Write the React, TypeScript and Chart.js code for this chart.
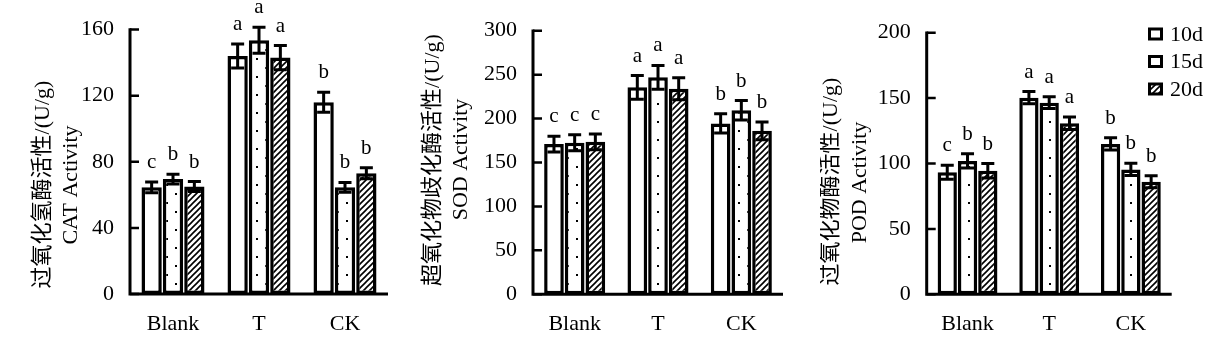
import React, { useEffect, useRef } from 'react';
import { Chart, registerables } from 'chart.js';

Chart.register(...registerables);

// ---------- data ----------
const categories = ['Blank', 'T', 'CK'];
const seriesLabels = ['10d', '15d', '20d'];

// CAT activity
const catMean10d = [64.5, 144, 116];
const catMean15d = [69.5, 153.5, 64.5];
const catMean20d = [65, 143, 73];
const catErr10d = [3.3, 7.3, 6];
const catErr15d = [3, 7.9, 3];
const catErr20d = [3, 7.3, 3.3];
const catLetters10d = ['c', 'a', 'b'];
const catLetters15d = ['b', 'a', 'b'];
const catLetters20d = ['b', 'a', 'b'];
const catTicks = [0, 40, 80, 120, 160];

// SOD activity
const sodMean10d = [171, 235.5, 194.5];
const sodMean15d = [172.5, 247, 209.5];
const sodMean20d = [173.5, 234, 186];
const sodErr10d = [9, 13.5, 11];
const sodErr15d = [9, 13.5, 11];
const sodErr20d = [9, 12.5, 10];
const sodLetters10d = ['c', 'a', 'b'];
const sodLetters15d = ['c', 'a', 'b'];
const sodLetters20d = ['c', 'a', 'b'];
const sodTicks = [0, 50, 100, 150, 200, 250, 300];

// POD activity
const podMean10d = [93.3, 150.3, 115];
const podMean15d = [102, 146.5, 95.5];
const podMean20d = [94.5, 130.7, 86];
const podErr10d = [5.3, 4.7, 4.7];
const podErr15d = [5.5, 4.5, 4.7];
const podErr20d = [5.5, 4.8, 4.6];
const podLetters10d = ['c', 'a', 'b'];
const podLetters15d = ['b', 'a', 'b'];
const podLetters20d = ['b', 'a', 'b'];
const podTicks = [0, 50, 100, 150, 200];

const catTitle = ['过氧化氢酶活性/(U/g)', 'CAT Activity'];
const sodTitle = ['超氧化物歧化酶活性/(U/g)', 'SOD Activity'];
const podTitle = ['过氧化物酶活性/(U/g)', 'POD Activity'];

// ---------- layout / style ----------
const W = 1228;
const H = 355;
const FONT = "'Liberation Serif', 'Times New Roman', 'Noto Sans CJK SC', serif";
const FS = 22;
const LETTER_FS = 21;

type Panel = {
  left: number;
  width: number;
  area: { left: number; right: number; top: number; bottom: number };
  titlePos: [number, number, number, number]; // cnX, cnY, enX, enY
  title: string[];
  means: number[][];
  errs: number[][];
  letters: string[][];
  ticks: number[];
  legend: boolean;
};

const panels: Panel[] = [
  {
    left: 0,
    width: 410,
    area: { left: 130, right: 388, top: 29.5, bottom: 294 },
    titlePos: [43, 184.5, 71, 185],
    title: catTitle,
    means: [catMean10d, catMean15d, catMean20d],
    errs: [catErr10d, catErr15d, catErr20d],
    letters: [catLetters10d, catLetters15d, catLetters20d],
    ticks: catTicks,
    legend: false,
  },
  {
    left: 410,
    width: 410,
    area: { left: 123, right: 373, top: 30.7, bottom: 294.3 },
    titlePos: [23, 160, 51, 159.5],
    title: sodTitle,
    means: [sodMean10d, sodMean15d, sodMean20d],
    errs: [sodErr10d, sodErr15d, sodErr20d],
    letters: [sodLetters10d, sodLetters15d, sodLetters20d],
    ticks: sodTicks,
    legend: false,
  },
  {
    left: 820,
    width: 408,
    area: { left: 106.7, right: 351.7, top: 32.7, bottom: 294.3 },
    titlePos: [11, 181.5, 40, 182.5],
    title: podTitle,
    means: [podMean10d, podMean15d, podMean20d],
    errs: [podErr10d, podErr15d, podErr20d],
    letters: [podLetters10d, podLetters15d, podLetters20d],
    ticks: podTicks,
    legend: true,
  },
];

function makeHatch(): CanvasPattern | string {
  const c = document.createElement('canvas');
  c.width = 6;
  c.height = 6;
  const g = c.getContext('2d');
  if (!g) return '#fff';
  g.fillStyle = '#fff';
  g.fillRect(0, 0, 6, 6);
  g.strokeStyle = '#000';
  g.lineWidth = 1.6;
  g.beginPath();
  g.moveTo(-1, 7);
  g.lineTo(7, -1);
  g.moveTo(-2, 2);
  g.lineTo(2, -2);
  g.moveTo(4, 8);
  g.lineTo(8, 4);
  g.stroke();
  return g.createPattern(c, 'repeat') || '#fff';
}

function makeDots(): CanvasPattern | string {
  const c = document.createElement('canvas');
  c.width = 18;
  c.height = 18;
  const g = c.getContext('2d');
  if (!g) return '#fff';
  g.fillStyle = '#fff';
  g.fillRect(0, 0, 18, 18);
  g.fillStyle = '#000';
  g.fillRect(4, 4, 2, 2);
  g.fillRect(13, 13, 2, 2);
  return g.createPattern(c, 'repeat') || '#fff';
}

function buildChart(canvas: HTMLCanvasElement, p: Panel): Chart {
  const fills = ['#ffffff', makeDots(), makeHatch()];
  const step = p.ticks[1] - p.ticks[0];

  const axesPlugin = {
    id: 'axesPlugin',
    afterDraw(chart: any) {
      const ctx = chart.ctx as CanvasRenderingContext2D;
      const { left, right, bottom } = chart.chartArea;
      const ys = chart.scales.y;
      const topY = ys.getPixelForValue(ys.max);
      ctx.save();
      ctx.strokeStyle = '#000';
      ctx.lineWidth = 3;
      ctx.beginPath();
      ctx.moveTo(left, topY - 1.2);
      ctx.lineTo(left, bottom + 1.5);
      ctx.moveTo(left - 1.5, bottom);
      ctx.lineTo(right, bottom);
      ctx.stroke();
      ctx.lineWidth = 2.5;
      ctx.beginPath();
      ys.ticks.forEach((t: any) => {
        const py = ys.getPixelForValue(t.value);
        ctx.moveTo(left, py);
        ctx.lineTo(left + 9, py);
      });
      ctx.stroke();
      ctx.restore();
    },
  };

  const errPlugin = {
    id: 'errPlugin',
    afterDatasetsDraw(chart: any) {
      const ctx = chart.ctx as CanvasRenderingContext2D;
      const ys = chart.scales.y;
      ctx.save();
      ctx.strokeStyle = '#000';
      ctx.fillStyle = '#000';
      ctx.font = `${LETTER_FS}px ${FONT}`;
      ctx.textAlign = 'center';
      ctx.textBaseline = 'alphabetic';
      p.errs.forEach((errArr, di) => {
        const meta = chart.getDatasetMeta(di);
        meta.data.forEach((el: any, j: number) => {
          const v = p.means[di][j];
          const e = errArr[j];
          const x = el.x;
          const yt = ys.getPixelForValue(v + e);
          const yb = ys.getPixelForValue(v - e);
          ctx.lineWidth = 3;
          ctx.beginPath();
          ctx.moveTo(x, yt);
          ctx.lineTo(x, yb);
          ctx.moveTo(x - 6.5, yt);
          ctx.lineTo(x + 6.5, yt);
          ctx.moveTo(x - 6.5, yb);
          ctx.lineTo(x + 6.5, yb);
          ctx.stroke();
          ctx.fillText(p.letters[di][j], x, yt - 14);
        });
      });
      ctx.restore();
    },
  };

  const titlePlugin = {
    id: 'titlePlugin',
    afterDraw(chart: any) {
      const ctx = chart.ctx as CanvasRenderingContext2D;
      const [cx1, cy1, cx2, cy2] = p.titlePos;
      ctx.save();
      ctx.fillStyle = '#000';
      ctx.font = `${FS}px ${FONT}`;
      ctx.textAlign = 'center';
      ctx.textBaseline = 'middle';
      [
        [p.title[0], cx1, cy1],
        [p.title[1], cx2, cy2],
      ].forEach(([text, x, y]) => {
        ctx.save();
        ctx.translate(x as number, y as number);
        ctx.rotate(-Math.PI / 2);
        ctx.fillText(text as string, 0, 0);
        ctx.restore();
      });
      ctx.restore();
    },
  };

  const legendPlugin = {
    id: 'legendPlugin',
    afterDraw(chart: any) {
      if (!p.legend) return;
      const ctx = chart.ctx as CanvasRenderingContext2D;
      const bx = 328;
      const tx = 350;
      const y0 = 34;
      const gap = 27.5;
      ctx.save();
      chart.data.datasets.forEach((ds: any, i: number) => {
        const cy = y0 + i * gap;
        ctx.fillStyle = '#000';
        ctx.fillRect(bx, cy - 6.5, 15, 13);
        ctx.fillStyle = ds.backgroundColor;
        ctx.fillRect(bx + 3, cy - 3.5, 9, 7);
        ctx.fillStyle = '#000';
        ctx.font = `${FS}px ${FONT}`;
        ctx.textAlign = 'left';
        ctx.textBaseline = 'middle';
        ctx.fillText(ds.label, tx, cy + 1);
      });
      ctx.restore();
    },
  };

  return new Chart(canvas, {
    type: 'bar',
    data: {
      labels: categories,
      datasets: p.means.map((m, i) => ({
        label: seriesLabels[i],
        data: m,
        backgroundColor: fills[i] as any,
        borderColor: '#000',
        borderWidth: 3.5,
        borderSkipped: false,
        barPercentage: 0.95,
        categoryPercentage: 0.745,
      })),
    },
    options: {
      responsive: false,
      animation: false,
      devicePixelRatio: 1,
      layout: {
        padding: { top: p.area.top, right: p.width - p.area.right, left: 0, bottom: 0 },
      },
      plugins: {
        legend: { display: false },
        tooltip: { enabled: false },
      },
      scales: {
        x: {
          offset: true,
          grid: { display: false, drawTicks: false },
          border: { display: false },
          ticks: { color: '#000', font: { family: FONT, size: FS }, padding: 17 },
          afterFit: (s: any) => {
            s.height = H - p.area.bottom;
          },
        },
        y: {
          min: p.ticks[0],
          max: p.ticks[p.ticks.length - 1],
          grid: { display: false, drawTicks: false },
          border: { display: false },
          ticks: { stepSize: step, color: '#000', font: { family: FONT, size: FS }, padding: 16 },
          afterFit: (s: any) => {
            s.width = p.area.left;
          },
        },
      },
    } as any,
    plugins: [errPlugin, axesPlugin, titlePlugin, legendPlugin],
  });
}

export default function App() {
  const refs = useRef<(HTMLCanvasElement | null)[]>([]);

  useEffect(() => {
    const charts: Chart[] = [];
    panels.forEach((p, i) => {
      const c = refs.current[i];
      if (c) charts.push(buildChart(c, p));
    });
    return () => {
      charts.forEach((c) => c.destroy());
    };
  }, []);

  return (
    <div style={{ position: 'absolute', left: 0, top: 0, width: W, height: H, background: '#fff' }}>
      {panels.map((p, i) => (
        <canvas
          key={i}
          ref={(el) => {
            refs.current[i] = el;
          }}
          width={p.width}
          height={H}
          style={{ position: 'absolute', left: p.left, top: 0, width: p.width, height: H }}
        />
      ))}
    </div>
  );
}
